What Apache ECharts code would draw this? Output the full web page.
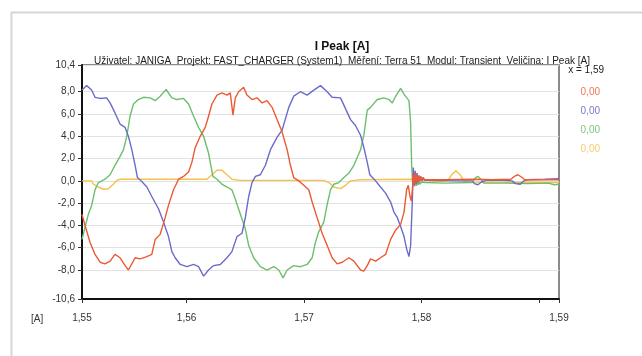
<!DOCTYPE html>
<html>
<head>
<meta charset="utf-8">
<title>I Peak [A]</title>
<script src="https://cdn.jsdelivr.net/npm/echarts@6.0.0/dist/echarts.min.js"></script>
<style>
  html, body { margin: 0; padding: 0; background: #fff; }
  #chart { width: 642px; height: 356px; }
</style>
</head>
<body>
<div id="chart"></div>
<script>
// axis ranges and ticks (end labels show the rounded range ends, like the original software)
const xMin = 1.5511;
const xMax = 1.5917;
const xTickValues = [1.5511, 1.56, 1.57, 1.58, 1.59, 1.5917];
const xLabelValues = [1.5511, 1.56, 1.57, 1.58, 1.5917];
const yMin = -10.6;
const yMax = 10.4;
const yTickValues = [-10.6, -8, -6, -4, -2, 0, 2, 4, 6, 8, 10.4];

const seriesNames = ["L1", "L2", "L3", "N"];
const cursorX = 1.59;
const cursorValues = [0.00, 0.00, 0.00, 0.00];

// [time s, current A]
const redPoints = [
  [1.5511, -3.0], [1.55136, -4.0], [1.55178, -5.5], [1.55221, -6.6], [1.55264, -7.3],
  [1.55306, -7.45], [1.55349, -7.2], [1.55391, -6.6], [1.55434, -6.9], [1.55477, -7.6],
  [1.55505, -8.0], [1.55534, -7.45], [1.55562, -6.9], [1.55605, -7.0], [1.55662, -6.8],
  [1.55704, -6.6], [1.55733, -5.25], [1.55775, -4.8], [1.55818, -3.3], [1.55846, -2.2],
  [1.55889, -0.8], [1.55932, 0.15], [1.55974, 0.4], [1.56017, 0.8], [1.56045, 1.66],
  [1.56074, 3.0], [1.56116, 4.0], [1.56159, 4.8], [1.56187, 5.8], [1.56216, 6.9],
  [1.56259, 7.7], [1.56301, 7.9], [1.56344, 7.7], [1.56372, 7.9], [1.56395, 5.9],
  [1.56415, 7.45], [1.56443, 8.0], [1.56486, 8.4], [1.56514, 7.7], [1.56557, 7.3],
  [1.566, 7.45], [1.56643, 7.0], [1.56685, 7.2], [1.56728, 6.6], [1.5677, 5.5],
  [1.56813, 4.4], [1.56856, 2.8], [1.56884, 1.4], [1.56912, 0.3], [1.56955, 0.0],
  [1.56998, -0.4], [1.5704, -0.8], [1.57069, -1.9], [1.57111, -3.3], [1.57154, -4.7],
  [1.57197, -5.8], [1.57239, -6.9], [1.57282, -7.45], [1.57325, -7.3], [1.57382, -6.9],
  [1.57424, -7.2], [1.57481, -8.0], [1.57509, -8.1], [1.57538, -7.6], [1.57566, -7.0],
  [1.57609, -7.2], [1.57651, -6.9], [1.57694, -6.6], [1.57737, -5.25], [1.5778, -4.4],
  [1.57822, -3.9], [1.57851, -2.8], [1.57873, -0.8], [1.57887, -0.4], [1.57902, -1.4],
  [1.57913, -1.8], [1.57922, -0.8], [1.5793, 0.6], [1.57938, -0.3], [1.57946, 0.7],
  [1.57954, -0.2], [1.57962, 0.55], [1.5797, -0.1], [1.57978, 0.45], [1.57986, 0.0],
  [1.57994, 0.35], [1.58004, 0.05], [1.58014, 0.3], [1.58026, 0.1], [1.5804, 0.2],
  [1.5806, 0.1], [1.582, 0.1], [1.5845, 0.15], [1.586, 0.1], [1.5876, 0.15],
  [1.5879, 0.4], [1.5882, 0.55], [1.5885, 0.35], [1.5888, 0.1], [1.5905, 0.1], [1.5917, 0.1]
];

const bluePoints = [
  [1.5511, 8.15], [1.5515, 8.55], [1.55192, 8.15], [1.55221, 7.5], [1.55264, 7.4],
  [1.5532, 7.45], [1.55349, 7.0], [1.55391, 6.1], [1.55434, 5.1], [1.55477, 4.8],
  [1.55505, 4.0], [1.55534, 2.8], [1.55562, 1.4], [1.55582, 0.3], [1.55619, -0.05],
  [1.55662, -0.55], [1.55704, -1.4], [1.55761, -2.5], [1.55804, -3.7], [1.55846, -5.0],
  [1.55875, -6.35], [1.55903, -6.9], [1.55946, -7.5], [1.56003, -7.7], [1.5606, -7.5],
  [1.56102, -7.7], [1.56145, -8.55], [1.56187, -8.0], [1.5623, -7.6], [1.56287, -7.5],
  [1.56344, -6.9], [1.56386, -6.35], [1.56429, -5.0], [1.56472, -4.7], [1.565, -3.3],
  [1.56529, -1.4], [1.56557, -0.15], [1.56586, 0.4], [1.56628, 0.55], [1.56671, 1.4],
  [1.56714, 2.8], [1.5677, 3.9], [1.56813, 4.55], [1.5687, 6.6], [1.56912, 7.6],
  [1.56969, 8.0], [1.57026, 7.7], [1.57083, 8.15], [1.5714, 8.55], [1.57197, 8.0],
  [1.57239, 7.5], [1.5731, 7.45], [1.57339, 6.8], [1.57396, 5.5], [1.57438, 4.97],
  [1.57481, 4.1], [1.57509, 3.0], [1.57538, 1.66], [1.5756, 0.55], [1.5758, 0.33],
  [1.57609, 0.0], [1.57651, -0.55], [1.57694, -1.1], [1.57737, -1.9], [1.57765, -2.8],
  [1.57794, -3.3], [1.57822, -4.1], [1.57851, -5.0], [1.57873, -6.1], [1.57893, -6.8],
  [1.57907, -5.8], [1.57922, -1.7], [1.5793, 1.2], [1.57938, -0.4], [1.57946, 0.9],
  [1.57954, -0.3], [1.57962, 0.7], [1.5797, -0.15], [1.57978, 0.5], [1.57986, -0.05],
  [1.57994, 0.4], [1.58004, 0.0], [1.58014, 0.3], [1.58026, 0.05], [1.5804, 0.2],
  [1.5806, 0.05], [1.583, 0.0], [1.5843, 0.0], [1.5845, -0.25], [1.5848, -0.35],
  [1.5851, -0.1], [1.5855, 0.05], [1.587, 0.05], [1.5877, 0.0], [1.588, -0.25],
  [1.5884, -0.3], [1.5887, 0.0], [1.589, 0.1], [1.5905, 0.15], [1.5917, 0.2]
];

const greenPoints = [
  [1.5511, -5.25], [1.55136, -4.15], [1.55164, -3.0], [1.55192, -2.2], [1.55221, -0.8],
  [1.55249, -0.15], [1.55278, 0.0], [1.55306, 0.15], [1.55349, 0.55], [1.55391, 1.4],
  [1.55434, 2.2], [1.55463, 2.8], [1.55491, 4.0], [1.55519, 5.8], [1.55548, 6.9],
  [1.5559, 7.3], [1.55633, 7.5], [1.5569, 7.45], [1.55733, 7.2], [1.55775, 7.6],
  [1.55826, 8.2], [1.55875, 7.45], [1.55917, 7.3], [1.55974, 7.4], [1.56017, 6.9],
  [1.5606, 5.8], [1.56102, 4.8], [1.56145, 4.0], [1.56187, 2.5], [1.56224, 0.4],
  [1.56259, 0.15], [1.56301, -0.3], [1.56344, -0.55], [1.56386, -0.8], [1.56415, -1.65],
  [1.56458, -3.0], [1.565, -4.3], [1.56529, -5.8], [1.56571, -6.9], [1.56628, -7.7],
  [1.56685, -8.0], [1.56742, -7.7], [1.56785, -8.0], [1.56821, -8.7], [1.56856, -8.0],
  [1.56912, -7.6], [1.56969, -7.7], [1.57026, -7.5], [1.57069, -6.9], [1.57097, -5.5],
  [1.57126, -4.55], [1.57168, -3.7], [1.57197, -2.1], [1.57225, -0.8], [1.57254, -0.3],
  [1.57296, -0.15], [1.57339, 0.3], [1.57382, 0.7], [1.57424, 1.4], [1.57481, 2.8],
  [1.57509, 4.1], [1.57538, 6.35], [1.57566, 6.6], [1.57623, 7.3], [1.5768, 7.45],
  [1.57723, 7.3], [1.57751, 7.0], [1.5778, 7.6], [1.57822, 8.3], [1.57856, 7.7],
  [1.57893, 7.2], [1.57907, 5.25], [1.57916, 1.4], [1.57924, -0.2], [1.57932, 0.4],
  [1.5794, -0.5], [1.57948, 0.2], [1.57956, -0.45], [1.57964, 0.05], [1.57972, -0.35],
  [1.5798, -0.05], [1.57988, -0.3], [1.58, -0.1], [1.58015, -0.25], [1.5803, -0.15],
  [1.582, -0.2], [1.5843, -0.15], [1.5846, 0.3], [1.5848, 0.4], [1.5851, 0.1],
  [1.5853, -0.2], [1.587, -0.2], [1.589, -0.25], [1.5908, -0.2], [1.5913, -0.35], [1.5917, -0.3]
];

const yellowPoints = [
  [1.5511, 0.0], [1.55192, 0.0], [1.55207, -0.3], [1.55249, -0.55], [1.55292, -0.75],
  [1.55335, -0.7], [1.55377, -0.3], [1.55406, 0.05], [1.55434, 0.15], [1.56173, 0.15],
  [1.56216, 0.55], [1.56259, 0.95], [1.56301, 0.95], [1.56344, 0.55], [1.56386, 0.15],
  [1.56458, 0.05], [1.57168, 0.05], [1.57211, -0.15], [1.57254, -0.55], [1.5731, -0.7],
  [1.57353, -0.4], [1.57396, 0.0], [1.57481, 0.1], [1.5793, 0.15], [1.57938, -0.15],
  [1.57946, 0.3], [1.57954, -0.1], [1.57962, 0.2], [1.57975, 0.0], [1.5799, 0.1],
  [1.5805, 0.0], [1.5815, -0.05], [1.58223, 0.0], [1.5826, 0.6], [1.58292, 0.9],
  [1.58325, 0.6], [1.5836, 0.0], [1.584, -0.1], [1.5917, -0.15]
];

const colors = ["#ec5a35", "#6b6bc9", "#6cbf6c", "#f2c24c"];
const readoutColors = ["#ef7656", "#7878c8", "#7cc47c", "#f5cd6a"];

const chart = echarts.init(document.getElementById("chart"), null, { renderer: "canvas" });

const fmt = (v, d) => v.toFixed(d).replace(".", ",");
const axisFont = { fontFamily: "Liberation Sans", fontSize: 10, color: "#333" };

const readout = [{
  type: "text", right: 38, top: 65,
  style: { text: "x = " + fmt(cursorX, 2), fill: "#222", font: "10px Liberation Sans", textAlign: "right" }
}];
cursorValues.forEach((v, i) => {
  readout.push({
    type: "text", right: 42, top: 87 + i * 19,
    style: { text: fmt(v, 2), fill: readoutColors[i], font: "10px Liberation Sans", textAlign: "right" }
  });
});

const option = {
  animation: false,
  backgroundColor: "#fff",
  title: {
    text: "I Peak [A]",
    subtext: "Uživatel: JANIGA  Projekt: FAST_CHARGER (System1)  Měření: Terra 51  Modul: Transient  Veličina: I Peak [A]",
    left: 337,
    textAlign: "center",
    top: 36,
    itemGap: 3,
    textStyle: { fontFamily: "Liberation Sans", fontSize: 12, fontWeight: "bold", color: "#111" },
    subtextStyle: { fontFamily: "Liberation Sans", fontSize: 10, color: "#222" }
  },
  grid: {
    left: 82, right: 83, top: 65, bottom: 57,
    show: true, borderColor: "#666", borderWidth: 1.5
  },
  xAxis: {
    type: "value",
    min: xMin,
    max: xMax,
    axisLine: { onZero: false, lineStyle: { color: "#111", width: 2 } },
    axisTick: { customValues: xTickValues, length: 4, lineStyle: { color: "#333" } },
    axisLabel: Object.assign({
      customValues: xLabelValues,
      margin: 14,
      formatter: v => fmt(v, 2)
    }, axisFont),
    splitLine: { show: false }
  },
  yAxis: {
    type: "value",
    min: yMin,
    max: yMax,
    axisLine: { show: true, onZero: false, lineStyle: { color: "#111", width: 2 } },
    axisTick: { show: true, customValues: yTickValues, length: 4, lineStyle: { color: "#333" } },
    axisLabel: Object.assign({
      customValues: yTickValues,
      margin: 7,
      formatter: v => fmt(v, 1)
    }, axisFont),
    splitLine: { show: true, lineStyle: { color: "#e2e2e2", width: 1 } }
  },
  graphic: [
    {
      type: "rect", left: 9, top: 10,
      shape: { width: 700, height: 400 },
      style: { fill: "none", stroke: "#d6d6d6", lineWidth: 2 }
    },
    {
      type: "text", left: 31, top: 314,
      style: { text: "[A]", fill: "#333", font: "10px Liberation Sans" }
    }
  ].concat(readout),
  series: [
    { name: seriesNames[3], data: yellowPoints, color: colors[3] },
    { name: seriesNames[2], data: greenPoints, color: colors[2] },
    { name: seriesNames[1], data: bluePoints, color: colors[1] },
    { name: seriesNames[0], data: redPoints, color: colors[0] }
  ].map(s => Object.assign({
    type: "line",
    showSymbol: false,
    lineStyle: { width: 1.4 },
    emphasis: { disabled: true }
  }, s))
};

chart.setOption(option);
</script>
</body>
</html>
